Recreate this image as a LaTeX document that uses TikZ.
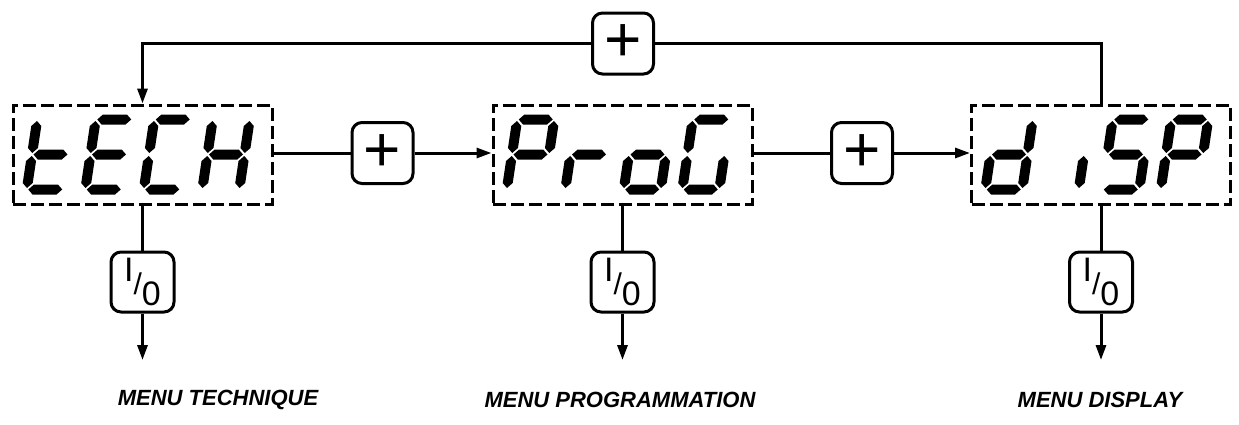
\documentclass[tikz,border=0pt]{standalone}
\usepackage{fontspec}
\setmainfont{Liberation Sans}
\usetikzlibrary{arrows.meta}
% seven-segment helpers (local units = px, y downwards)
\newcommand\hseg[3]{\fill (#1+1.5,#3) -- (#1+6.5,#3-5) -- (#2-6.5,#3-5) -- (#2-1.5,#3) -- (#2-6.5,#3+5) -- (#1+6.5,#3+5) -- cycle;}
\newcommand\vseg[3]{\fill (#1,#2+1.5) -- (#1+5,#2+6.5) -- (#1+5,#3-6.5) -- (#1,#3-1.5) -- (#1-5,#3-6.5) -- (#1-5,#2+6.5) -- cycle;}
\newcommand\SgA{\hseg{0}{37}{-35}}
\newcommand\SgB{\vseg{37}{-35}{0}}
\newcommand\SgC{\vseg{37}{0}{35}}
\newcommand\SgD{\hseg{0}{37}{35}}
\newcommand\SgE{\vseg{0}{0}{35}}
\newcommand\SgF{\vseg{0}{-35}{0}}
\newcommand\SgG{\hseg{0}{37}{0}}
\newcommand\sevdig[2]{\begin{scope}[shift={(#1,154.5)},xslant=0.15]#2\end{scope}}
\newcommand\iosym{\fontsize{17}{17}\selectfont\raisebox{5.5pt}{I}{\fontsize{15}{15}\selectfont\raisebox{-1pt}{/}}\raisebox{-6.5pt}{0}}
\newcommand\plussym{{\fontsize{32}{32}\selectfont\raisebox{-1pt}{+}}}
\begin{document}
\begin{tikzpicture}[x=0.5pt,y=-0.5pt,
  dispbox/.style={draw,dash pattern=on 6.5pt off 2.5pt,line width=1.5pt,minimum width=129.5pt,minimum height=49.5pt,inner sep=0pt},
  btn/.style={draw,line width=1.5pt,rounded corners=5pt,minimum width=30.5pt,minimum height=30.5pt,inner sep=0pt},
  iobtn/.style={btn,minimum width=31.5pt,minimum height=30pt},
  conn/.style={line width=1.5pt},
  arr/.style={line width=1.5pt,-{Triangle[length=7.5pt,width=5pt]}},
  lbl/.style={font=\fontsize{11}{13}\selectfont\bfseries\itshape}]
\path[use as bounding box,fill=white] (0,0) rectangle (1239,424);
% displays
\node[dispbox] (dT) at (142.5,154.5) {};
\node[dispbox] (dP) at (622.5,154.5) {};
\node[dispbox] (dD) at (1101,154.5) {};
% tECH
\sevdig{32}{\SgF\SgE\SgG\SgD}
\sevdig{90.5}{\SgA\SgD\SgE\SgF\SgG}
\sevdig{149}{\SgA\SgD\SgE\SgF}
\sevdig{207.5}{\SgB\SgC\SgE\SgF\SgG}
% ProG
\sevdig{512}{\SgA\SgB\SgE\SgF\SgG}
\sevdig{570.5}{\SgE\SgG}
\sevdig{629}{\SgC\SgD\SgE\SgG}
\sevdig{687.5}{\SgA\SgC\SgD\SgE\SgF}
% diSP
\sevdig{990.5}{\SgB\SgC\SgD\SgE\SgG}
\sevdig{1047}{\SgC}
\sevdig{1107.5}{\SgA\SgF\SgG\SgC\SgD}
\sevdig{1166}{\SgA\SgB\SgE\SgF\SgG}
% buttons
\node[btn] (pT) at (623,43.5) {\plussym};
\node[btn] (p1) at (382.5,153) {\plussym};
\node[btn] (p2) at (862,153) {\plussym};
\node[iobtn] (io1) at (142.5,282) {\iosym};
\node[iobtn] (io2) at (622.5,282) {\iosym};
\node[iobtn] (io3) at (1101,282) {\iosym};
\coordinate (e1) at (142.5,360);
\coordinate (e2) at (622.5,360);
\coordinate (e3) at (1101,360);
% connectors
\draw[conn] (dT.east |- p1.west) -- (p1.west);
\draw[arr] (p1.east) -- (dP.west |- p1.east);
\draw[conn] (dP.east |- p2.west) -- (p2.west);
\draw[arr] (p2.east) -- (dD.west |- p2.east);
\draw[conn] (dD.north) |- (pT.east);
\draw[arr] (pT.west) -| (dT.north);
\draw[conn] (dT.south) -- (io1.north);
\draw[conn] (dP.south) -- (io2.north);
\draw[conn] (dD.south) -- (io3.north);
\draw[arr] (io1.south) -- (e1);
\draw[arr] (io2.south) -- (e2);
\draw[arr] (io3.south) -- (e3);
% labels
\node[lbl] (l1) at (218,400) {MENU TECHNIQUE};
\node[lbl] (l2) at (620,400) {MENU PROGRAMMATION};
\node[lbl] (l3) at (1100,400) {MENU DISPLAY};
\end{tikzpicture}
\end{document}
